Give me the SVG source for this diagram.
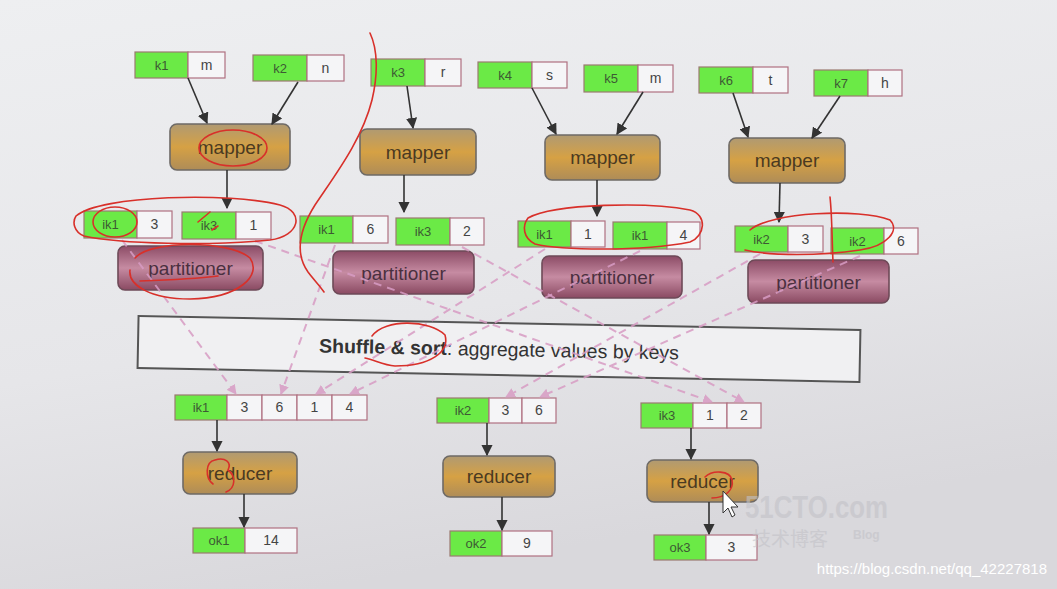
<svg xmlns="http://www.w3.org/2000/svg" width="1057" height="589" viewBox="0 0 1057 589">
<defs>
<linearGradient id="bg" x1="0" y1="0" x2="0.3" y2="1">
<stop offset="0" stop-color="#eeeff1"/><stop offset="0.6" stop-color="#e6e6e9"/><stop offset="1" stop-color="#d9d8dc"/>
</linearGradient>
<linearGradient id="mapg" x1="0" y1="0" x2="0" y2="1">
<stop offset="0" stop-color="#b09a72"/><stop offset="0.5" stop-color="#d6a144"/><stop offset="1" stop-color="#ae8c58"/>
</linearGradient>
<linearGradient id="partg" x1="0" y1="0" x2="0" y2="1">
<stop offset="0" stop-color="#8c4c66"/><stop offset="0.5" stop-color="#c68ba2"/><stop offset="1" stop-color="#8a4a62"/>
</linearGradient>
<marker id="ah" viewBox="0 0 10 10" refX="9" refY="5" markerWidth="7" markerHeight="7" orient="auto-start-reverse">
<path d="M0,0 L10,5 L0,10 z" fill="#333"/>
</marker>
<marker id="ahp" viewBox="0 0 10 10" refX="9" refY="5" markerWidth="5" markerHeight="5" orient="auto-start-reverse">
<path d="M0,0 L10,5 L0,10 z" fill="#d89cc4"/>
</marker>
<style>
.g{fill:#6bea46;stroke:#9a7a70;stroke-width:1.2}
.w{fill:#f5f5f7;stroke:#b07080;stroke-width:1.2}
.gt{font-family:"Liberation Sans",Arial,sans-serif;font-size:13px;fill:#3d5a34;text-anchor:middle}
.wt{font-family:"Liberation Sans",Arial,sans-serif;font-size:14px;fill:#444;text-anchor:middle}
.mp{fill:url(#mapg);stroke:#6e6a66;stroke-width:1.6}
.pt{fill:url(#partg);stroke:#6e4a58;stroke-width:1.6}
.mt{font-family:"Liberation Sans",Arial,sans-serif;font-size:19px;fill:#4a3a22;text-anchor:middle}
.ptt{font-family:"Liberation Sans",Arial,sans-serif;font-size:19px;fill:#4a3040;text-anchor:middle}
.ar{stroke:#333;stroke-width:1.6;fill:none;marker-end:url(#ah)}
.da{stroke:#d89cc4;stroke-width:2;fill:none;stroke-dasharray:8 6;marker-end:url(#ahp);opacity:0.85}
.rd{stroke:#d8302a;stroke-width:1.6;fill:none;stroke-linecap:round}
</style>
</defs>
<rect x="0" y="0" width="1057" height="589" fill="url(#bg)"/>

<!-- shuffle box -->
<g id="shuffle" transform="rotate(1.1 499 349)">
<rect x="138" y="323" width="722" height="52" fill="#f0f0f2" stroke="#555" stroke-width="2"/>
<text x="499" y="356" font-family="'Liberation Sans',Arial,sans-serif" font-size="19.5" fill="#333" text-anchor="middle"><tspan font-weight="bold">Shuffle &amp; sort</tspan>: aggregate values by keys</text>
</g>

<!-- inputs -->
<g id="in-k1"><rect class="g" x="135" y="52" width="53" height="26"/><rect class="w" x="188" y="52" width="37" height="26"/><text class="gt" x="161.5" y="70">k1</text><text class="wt" x="206.5" y="70">m</text></g>
<g id="in-k2"><rect class="g" x="253" y="55" width="54" height="26"/><rect class="w" x="307" y="55" width="37" height="26"/><text class="gt" x="280" y="73">k2</text><text class="wt" x="325.5" y="73">n</text></g>
<g id="in-k3"><rect class="g" x="371" y="59" width="54" height="27"/><rect class="w" x="425" y="59" width="36" height="27"/><text class="gt" x="398" y="77">k3</text><text class="wt" x="443" y="77">r</text></g>
<g id="in-k4"><rect class="g" x="478" y="62" width="54" height="26"/><rect class="w" x="532" y="62" width="35" height="26"/><text class="gt" x="505" y="80">k4</text><text class="wt" x="549.5" y="80">s</text></g>
<g id="in-k5"><rect class="g" x="584" y="65" width="54" height="27"/><rect class="w" x="638" y="65" width="35" height="27"/><text class="gt" x="611" y="83">k5</text><text class="wt" x="655.5" y="83">m</text></g>
<g id="in-k6"><rect class="g" x="699" y="67" width="54" height="26"/><rect class="w" x="753" y="67" width="35" height="26"/><text class="gt" x="726" y="85">k6</text><text class="wt" x="770.5" y="85">t</text></g>
<g id="in-k7"><rect class="g" x="814" y="70" width="54" height="26"/><rect class="w" x="868" y="70" width="34" height="26"/><text class="gt" x="841" y="88">k7</text><text class="wt" x="885" y="88">h</text></g>

<!-- mappers -->
<g id="mapper1"><rect class="mp" x="170" y="124" width="120" height="46" rx="7"/><text class="mt" x="230" y="154">mapper</text></g>
<g id="mapper2"><rect class="mp" x="360" y="129" width="116" height="46" rx="7"/><text class="mt" x="418" y="159">mapper</text></g>
<g id="mapper3"><rect class="mp" x="545" y="135" width="115" height="45" rx="7"/><text class="mt" x="602.5" y="164">mapper</text></g>
<g id="mapper4"><rect class="mp" x="729" y="138" width="116" height="45" rx="7"/><text class="mt" x="787" y="167">mapper</text></g>

<!-- intermediate pairs -->
<g id="mid-1a"><rect class="g" x="84" y="211" width="53" height="27"/><rect class="w" x="137" y="211" width="35" height="27"/><text class="gt" x="110.5" y="229">ik1</text><text class="wt" x="154.5" y="229">3</text></g>
<g id="mid-1b"><rect class="g" x="182" y="212" width="54" height="27"/><rect class="w" x="236" y="212" width="35" height="27"/><text class="gt" x="209" y="230">ik3</text><text class="wt" x="253.5" y="230">1</text></g>
<g id="mid-2a"><rect class="g" x="300" y="216" width="53" height="27"/><rect class="w" x="353" y="216" width="35" height="27"/><text class="gt" x="326.5" y="234">ik1</text><text class="wt" x="370.5" y="234">6</text></g>
<g id="mid-2b"><rect class="g" x="396" y="218" width="54" height="27"/><rect class="w" x="450" y="218" width="34" height="27"/><text class="gt" x="423" y="236">ik3</text><text class="wt" x="467" y="236">2</text></g>
<g id="mid-3a"><rect class="g" x="518" y="221" width="53" height="26"/><rect class="w" x="571" y="221" width="34" height="26"/><text class="gt" x="544.5" y="239">ik1</text><text class="wt" x="588" y="239">1</text></g>
<g id="mid-3b"><rect class="g" x="613" y="222" width="54" height="27"/><rect class="w" x="667" y="222" width="33" height="27"/><text class="gt" x="640" y="240">ik1</text><text class="wt" x="683.5" y="240">4</text></g>
<g id="mid-4a"><rect class="g" x="735" y="226" width="53" height="26"/><rect class="w" x="788" y="226" width="35" height="26"/><text class="gt" x="761.5" y="244">ik2</text><text class="wt" x="805.5" y="244">3</text></g>
<g id="mid-4b"><rect class="g" x="831" y="228" width="53" height="26"/><rect class="w" x="884" y="228" width="34" height="26"/><text class="gt" x="857.5" y="246">ik2</text><text class="wt" x="901" y="246">6</text></g>

<!-- partitioners -->
<g id="part1"><rect class="pt" x="118" y="246" width="145" height="44" rx="7"/><text class="ptt" x="190.5" y="275">partitioner</text></g>
<g id="part2"><rect class="pt" x="333" y="251" width="141" height="43" rx="7"/><text class="ptt" x="403.5" y="280">partitioner</text></g>
<g id="part3"><rect class="pt" x="542" y="256" width="140" height="42" rx="7"/><text class="ptt" x="612" y="284">partitioner</text></g>
<g id="part4"><rect class="pt" x="748" y="260" width="141" height="43" rx="7"/><text class="ptt" x="818.5" y="289">partitioner</text></g>

<!-- reducer inputs -->
<g id="rin-1"><rect class="g" x="175" y="395" width="52" height="25"/><rect class="w" x="227" y="395" width="35" height="25"/><rect class="w" x="262" y="395" width="35" height="25"/><rect class="w" x="297" y="395" width="35" height="25"/><rect class="w" x="332" y="395" width="35" height="25"/><text class="gt" x="201" y="412">ik1</text><text class="wt" x="244.5" y="412">3</text><text class="wt" x="279.5" y="412">6</text><text class="wt" x="314.5" y="412">1</text><text class="wt" x="349.5" y="412">4</text></g>
<g id="rin-2"><rect class="g" x="437" y="398" width="52" height="25"/><rect class="w" x="489" y="398" width="33" height="25"/><rect class="w" x="522" y="398" width="34" height="25"/><text class="gt" x="463" y="415">ik2</text><text class="wt" x="505.5" y="415">3</text><text class="wt" x="539" y="415">6</text></g>
<g id="rin-3"><rect class="g" x="641" y="403" width="52" height="25"/><rect class="w" x="693" y="403" width="34" height="25"/><rect class="w" x="727" y="403" width="34" height="25"/><text class="gt" x="667" y="420">ik3</text><text class="wt" x="710" y="420">1</text><text class="wt" x="744" y="420">2</text></g>

<!-- reducers -->
<g id="reducer1"><rect class="mp" x="183" y="452" width="114" height="42" rx="7"/><text class="mt" x="240" y="480">reducer</text></g>
<g id="reducer2"><rect class="mp" x="443" y="456" width="112" height="41" rx="7"/><text class="mt" x="499" y="483">reducer</text></g>
<g id="reducer3"><rect class="mp" x="647" y="460" width="111" height="42" rx="7"/><text class="mt" x="702.5" y="488">reducer</text></g>

<!-- outputs -->
<g id="out-1"><rect class="g" x="193" y="528" width="52" height="25"/><rect class="w" x="245" y="528" width="52" height="25"/><text class="gt" x="219" y="545">ok1</text><text class="wt" x="271" y="545">14</text></g>
<g id="out-2"><rect class="g" x="450" y="531" width="52" height="25"/><rect class="w" x="502" y="531" width="50" height="25"/><text class="gt" x="476" y="548">ok2</text><text class="wt" x="527" y="548">9</text></g>
<g id="out-3"><rect class="g" x="654" y="535" width="52" height="25"/><rect class="w" x="706" y="535" width="51" height="25"/><text class="gt" x="680" y="552">ok3</text><text class="wt" x="731.5" y="552">3</text></g>

<!-- connectors -->
<g id="connectors">
<line class="ar" x1="188" y1="78" x2="207" y2="123"/>
<line class="ar" x1="298" y1="82" x2="272" y2="124"/>
<line class="ar" x1="407" y1="86" x2="413" y2="128"/>
<line class="ar" x1="532" y1="88" x2="556" y2="134"/>
<line class="ar" x1="643" y1="92" x2="617" y2="134"/>
<line class="ar" x1="733" y1="93" x2="748" y2="137"/>
<line class="ar" x1="840" y1="96" x2="812" y2="138"/>
<line class="ar" x1="227" y1="170" x2="227" y2="208"/>
<line class="ar" x1="404" y1="175" x2="404" y2="212"/>
<line class="ar" x1="597" y1="180" x2="597" y2="216"/>
<line class="ar" x1="780" y1="183" x2="779" y2="222"/>
<line class="ar" x1="217" y1="420" x2="217" y2="451"/>
<line class="ar" x1="487" y1="423" x2="487" y2="455"/>
<line class="ar" x1="691" y1="428" x2="691" y2="459"/>
<line class="ar" x1="244" y1="494" x2="244" y2="527"/>
<line class="ar" x1="502" y1="497" x2="502" y2="530"/>
<line class="ar" x1="709" y1="502" x2="709" y2="534"/>
<line class="da" x1="122" y1="240" x2="236" y2="394"/>
<line class="da" x1="255" y1="241" x2="712" y2="402"/>
<line class="da" x1="335" y1="245" x2="281" y2="394"/>
<line class="da" x1="462" y1="247" x2="744" y2="402"/>
<line class="da" x1="545" y1="249" x2="316" y2="394"/>
<line class="da" x1="640" y1="251" x2="350" y2="394"/>
<line class="da" x1="760" y1="254" x2="506" y2="397"/>
<line class="da" x1="860" y1="256" x2="540" y2="397"/>
</g>

<!-- watermarks -->
<g id="watermark" fill="#c2c2c8" opacity="0.6">
<text x="745" y="518" font-family="'Liberation Sans',Arial,sans-serif" font-size="32" font-weight="bold" textLength="143" lengthAdjust="spacingAndGlyphs">51CTO.com</text>
<text x="752" y="546" font-size="19" font-family="'Noto Sans CJK SC',sans-serif">技术博客</text>
<text x="853" y="539" font-family="'Liberation Sans',Arial,sans-serif" font-size="12" font-weight="bold">Blog</text>
</g>
<text x="1047" y="574" font-family="'Liberation Sans',Arial,sans-serif" font-size="15" fill="#ffffff" text-anchor="end">https://blog.csdn.net/qq_42227818</text>

<!-- hand annotations -->
<g id="annotations">
<path class="rd" d="M370,33 C378,50 378,75 372,100 C362,140 335,175 315,205 C298,232 296,255 308,272 C314,280 320,286 324,292"/>
<ellipse class="rd" cx="233" cy="148" rx="34" ry="18"/>
<path class="rd" d="M76,216 C100,195 230,192 280,205 C305,212 300,236 270,240 C210,246 120,244 84,236 C74,232 72,222 76,216"/>
<ellipse class="rd" cx="115" cy="222" rx="22" ry="15"/>
<path class="rd" d="M135,258 C150,240 230,240 250,258 C262,275 240,298 190,299 C150,299 128,285 130,270"/>
<path class="rd" d="M140,281 C170,280 195,279 218,276"/>
<path class="rd" d="M372,336 C385,318 430,320 445,335 C450,352 430,366 395,366 C383,365 375,360 365,358"/>
<path class="rd" d="M528,218 C555,203 650,202 690,210 C708,215 705,236 690,242 C640,252 560,250 535,244 C523,238 522,226 528,218"/>
<path class="rd" d="M750,230 C770,212 860,208 890,220 C900,230 888,246 860,250 C820,256 770,256 745,250"/>
<path class="rd" d="M830,197 C832,215 832,240 833,262"/>
<path class="rd" d="M215,460 C205,462 205,478 213,484 M215,460 C225,457 232,462 228,470 C236,476 236,488 226,492"/>
<path class="rd" d="M705,477 C712,470 730,470 732,480 C734,490 725,498 712,498"/>
<path class="rd" d="M198,222 L210,212 M212,230 L218,226"/>
</g>
<!-- cursor -->
<g id="cursor"><path d="M723,491 L723,513 L728,508 L732,517 L735,515 L731,507 L738,507 Z" fill="#fff" stroke="#333" stroke-width="1"/></g>
</svg>
